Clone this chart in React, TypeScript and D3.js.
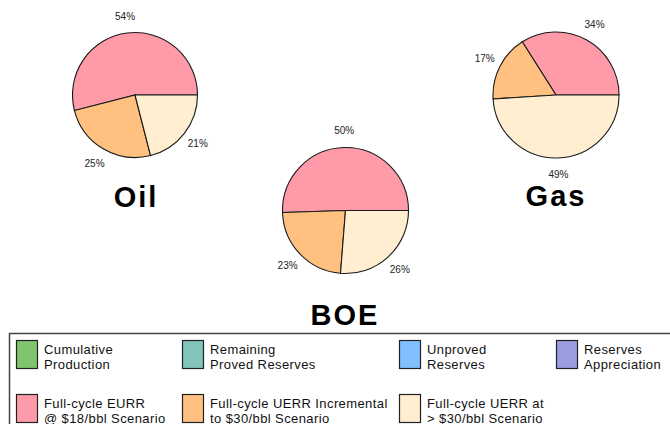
import React from "react";
import * as d3 from "d3";

const sliceCategories = [
  "Full-cycle EURR @ $18/bbl Scenario",
  "Full-cycle UERR Incremental to $30/bbl Scenario",
  "Full-cycle UERR at > $30/bbl Scenario",
];
const oilValues = [54, 25, 21];
const gasValues = [34, 17, 49];
const boeValues = [50, 23, 26];
const pieTitles = ["Oil", "BOE", "Gas"];

const legendLines: string[][] = [
  ["Cumulative", "Production"],
  ["Remaining", "Proved Reserves"],
  ["Unproved", "Reserves"],
  ["Reserves", "Appreciation"],
  ["Full-cycle EURR", "@ $18/bbl Scenario"],
  ["Full-cycle UERR Incremental", "to $30/bbl Scenario"],
  ["Full-cycle UERR at", "> $30/bbl Scenario"],
];
const legendColors = ["#80C46E", "#80C4BA", "#80C0FF", "#9C9CE0", "#FF9BA8", "#FFC080", "#FFEED0"];
const sliceColors = ["#FF9BA8", "#FFC080", "#FFEED0"];

const W = 670;
const H = 424;

type PieSpec = { title: string; values: number[]; cx: number; cy: number; r: number; tx: number; ty: number };

const pies: PieSpec[] = [
  { title: pieTitles[0], values: oilValues, cx: 135, cy: 95, r: 62.5, tx: 136, ty: 207 },
  { title: pieTitles[1], values: boeValues, cx: 345.5, cy: 210.5, r: 63, tx: 345, ty: 325 },
  { title: pieTitles[2], values: gasValues, cx: 556, cy: 95, r: 63, tx: 556, ty: 206 },
];

function Pie({ spec }: { spec: PieSpec }) {
  const pie = d3
    .pie<number>()
    .sort(null)
    .value((d) => d)
    .startAngle(Math.PI / 2)
    .endAngle(Math.PI / 2 - 2 * Math.PI);
  const arcs = pie(spec.values);
  const arc = d3.arc<d3.PieArcDatum<number>>().innerRadius(0).outerRadius(spec.r);
  const labelArc = d3.arc<d3.PieArcDatum<number>>().innerRadius(spec.r + 17).outerRadius(spec.r + 17);
  return (
    <g>
      <g transform={`translate(${spec.cx},${spec.cy})`}>
        {arcs.map((a, i) => (
          <path key={i} d={arc(a) || ""} fill={sliceColors[i]} stroke="#1a1a1a" strokeWidth={1.1} />
        ))}
        {arcs.map((a, i) => {
          const [x, y] = labelArc.centroid(a);
          return (
            <text
              key={"l" + i}
              x={x}
              y={y}
              textAnchor="middle"
              dominantBaseline="central"
              fontFamily="Liberation Sans, Arial, sans-serif"
              fontSize={10}
              fill="#222"
            >
              {a.data}%
            </text>
          );
        })}
      </g>
      <text
        x={spec.tx}
        y={spec.ty}
        textAnchor="middle"
        fontFamily="Liberation Sans, Arial, sans-serif"
        fontWeight="bold"
        fontSize={29}
        letterSpacing={2}
        fill="#000"
      >
        {spec.title}
      </text>
    </g>
  );
}

const legendCols = [16, 182, 399, 556];
const legendRows = [340, 394];

export default function App() {
  return (
    <svg
      width={W}
      height={H}
      style={{ position: "absolute", left: 0, top: 0, background: "#fff" }}
      viewBox={`0 0 ${W} ${H}`}
    >
      <rect x={0} y={0} width={W} height={H} fill="#fff" />
      {pies.map((p, i) => (
        <Pie key={i} spec={p} />
      ))}
      <rect x={9.5} y={333.5} width={720} height={140} fill="none" stroke="#444" strokeWidth={1.5} />
      {legendLines.map((lines, i) => {
        const col = i < 4 ? i : i - 4;
        const row = i < 4 ? 0 : 1;
        const x = legendCols[col];
        const y = legendRows[row];
        return (
          <g key={i}>
            <rect x={x + 0.5} y={y + 0.5} width={21} height={28} fill={legendColors[i]} stroke="#222" strokeWidth={1.2} />
            {lines.map((t, j) => (
              <text
                key={j}
                x={x + 28}
                y={y + 9 + j * 15}
                dominantBaseline="central"
                fontFamily="Liberation Sans, Arial, sans-serif"
                fontSize={13}
                letterSpacing={0.4}
                fill="#111"
              >
                {t}
              </text>
            ))}
          </g>
        );
      })}
    </svg>
  );
}
